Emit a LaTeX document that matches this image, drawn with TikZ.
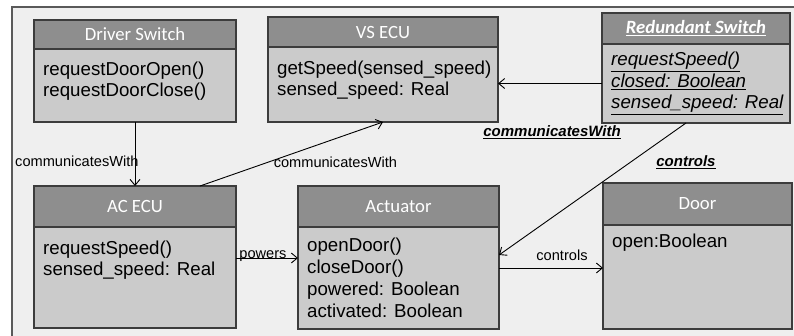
\documentclass[tikz,border=0pt]{standalone}
\usepackage{fontspec}
\setmainfont{Liberation Sans}
\newfontfamily\hdfont{Carlito}
\usepackage{xcolor}
\usepackage{tikz}
\usetikzlibrary{positioning,calc,arrows.meta}

\definecolor{hdgray}{HTML}{8E8E8E}
\definecolor{bdgray}{HTML}{CBCBCB}
\definecolor{bggray}{HTML}{EFEFEF}
\definecolor{edgegray}{HTML}{3C3C3C}
\definecolor{framegray}{HTML}{5A5A5A}

\begin{document}
\begin{tikzpicture}[x=1pt, y=-1pt,
    hdbox/.style={draw=edgegray, fill=hdgray, line width=1.2pt, text=white, font=\hdfont\fontsize{18.7}{22}\selectfont, inner sep=0pt, outer sep=0pt, anchor=north west},
    bdbox/.style={draw=edgegray, fill=bdgray, line width=1.2pt, inner sep=0pt, outer sep=0pt},
    bdtext/.style={anchor=north west, inner sep=0pt, align=left, xshift=9pt, yshift=-14pt, font=\fontsize{18.7}{21}\selectfont},
    conn/.style={draw=black, line width=0.9pt, -{Straight Barb[length=6pt, width=10pt]}},
    lbl/.style={font=\fontsize{14.6}{16}\selectfont, inner sep=1pt},
    lblb/.style={font=\fontsize{15}{17}\selectfont\bfseries\itshape, inner sep=1pt}]
    \path[use as bounding box, fill=white] (0,0) rectangle (794,335);
    \draw[draw=framegray, fill=bggray, line width=1.2pt] (12,7) rectangle (820,360);

    % classes
    \node[hdbox, minimum width=202pt, minimum height=29pt] (dsh) at (34,20) {Driver Switch};
    \node[bdbox, minimum width=202pt, minimum height=73pt, below=0pt of dsh, label={[bdtext, yshift=1pt]north west:{requestDoorOpen()\\requestDoorClose()}}] (dsb) {};
    \node[hdbox, minimum width=230pt, minimum height=30pt] (vsh) at (268,17) {VS ECU};
    \node[bdbox, minimum width=230pt, minimum height=75pt, below=0pt of vsh, label={[bdtext]north west:{getSpeed(sensed\_speed)\\sensed\_speed: Real}}] (vsb) {};
    \node[hdbox, minimum width=188pt, minimum height=31pt, font=\hdfont\fontsize{18.7}{22}\selectfont\bfseries\itshape] (rsh) at (602,13) {\underline{Redundant Switch}};
    \node[bdbox, minimum width=188pt, minimum height=79pt, below=0pt of rsh, label={[bdtext, yshift=6pt, font=\fontsize{18.7}{21.5}\selectfont\itshape]north west:{\underline{requestSpeed()}\\\underline{closed: Boolean}\\\underline{sensed\_speed: Real}}}] (rsb) {};
    \node[hdbox, minimum width=202pt, minimum height=41pt] (ach) at (34,186) {AC ECU};
    \node[bdbox, minimum width=202pt, minimum height=101pt, below=0pt of ach, label={[bdtext]north west:{requestSpeed()\\sensed\_speed: Real}}] (acb) {};
    \node[hdbox, minimum width=201pt, minimum height=41pt] (acth) at (298,186) {Actuator};
    \node[bdbox, minimum width=201pt, minimum height=102pt, below=0pt of acth, label={[bdtext, yshift=3pt, font=\fontsize{18.7}{22}\selectfont]north west:{openDoor()\\closeDoor()\\powered: Boolean\\activated: Boolean}}] (actb) {};
    \node[hdbox, minimum width=189pt, minimum height=42pt] (doorh) at (603,183) {Door};
    \node[bdbox, minimum width=189pt, minimum height=104pt, below=0pt of doorh, label={[bdtext, yshift=5pt]north west:{open:Boolean}}] (doorb) {};

    % associations
    \draw[conn] (dsb.south) -- node[lbl, pos=0.62, anchor=east, xshift=5pt] {communicatesWith} (ach.north);
    \draw[conn] ([xshift=65pt]ach.north) -- node[lbl, pos=0.74, below=17pt] {communicatesWith} (vsb.south);
    \draw[conn] (rsb.west) -- node[lblb, pos=0.48, below=41pt] {\underline{communicatesWith}} (rsb.west -| vsb.east);
    \draw[conn] ([xshift=-10pt]rsb.south) -- node[lblb, pos=0.3, right=25pt] {\underline{controls}} ([yshift=-28pt]actb.north east);
    \draw[conn] ([yshift=-31pt]acb.north east) -- node[lbl, anchor=base, xshift=-4pt] {powers} ([yshift=-31pt]actb.north west);
    \draw[conn] ([yshift=-41pt]actb.north east) -- node[lbl, above=6pt, xshift=11pt] {controls} ([yshift=-41pt]actb.north east -| doorb.west);
\end{tikzpicture}
\end{document}
